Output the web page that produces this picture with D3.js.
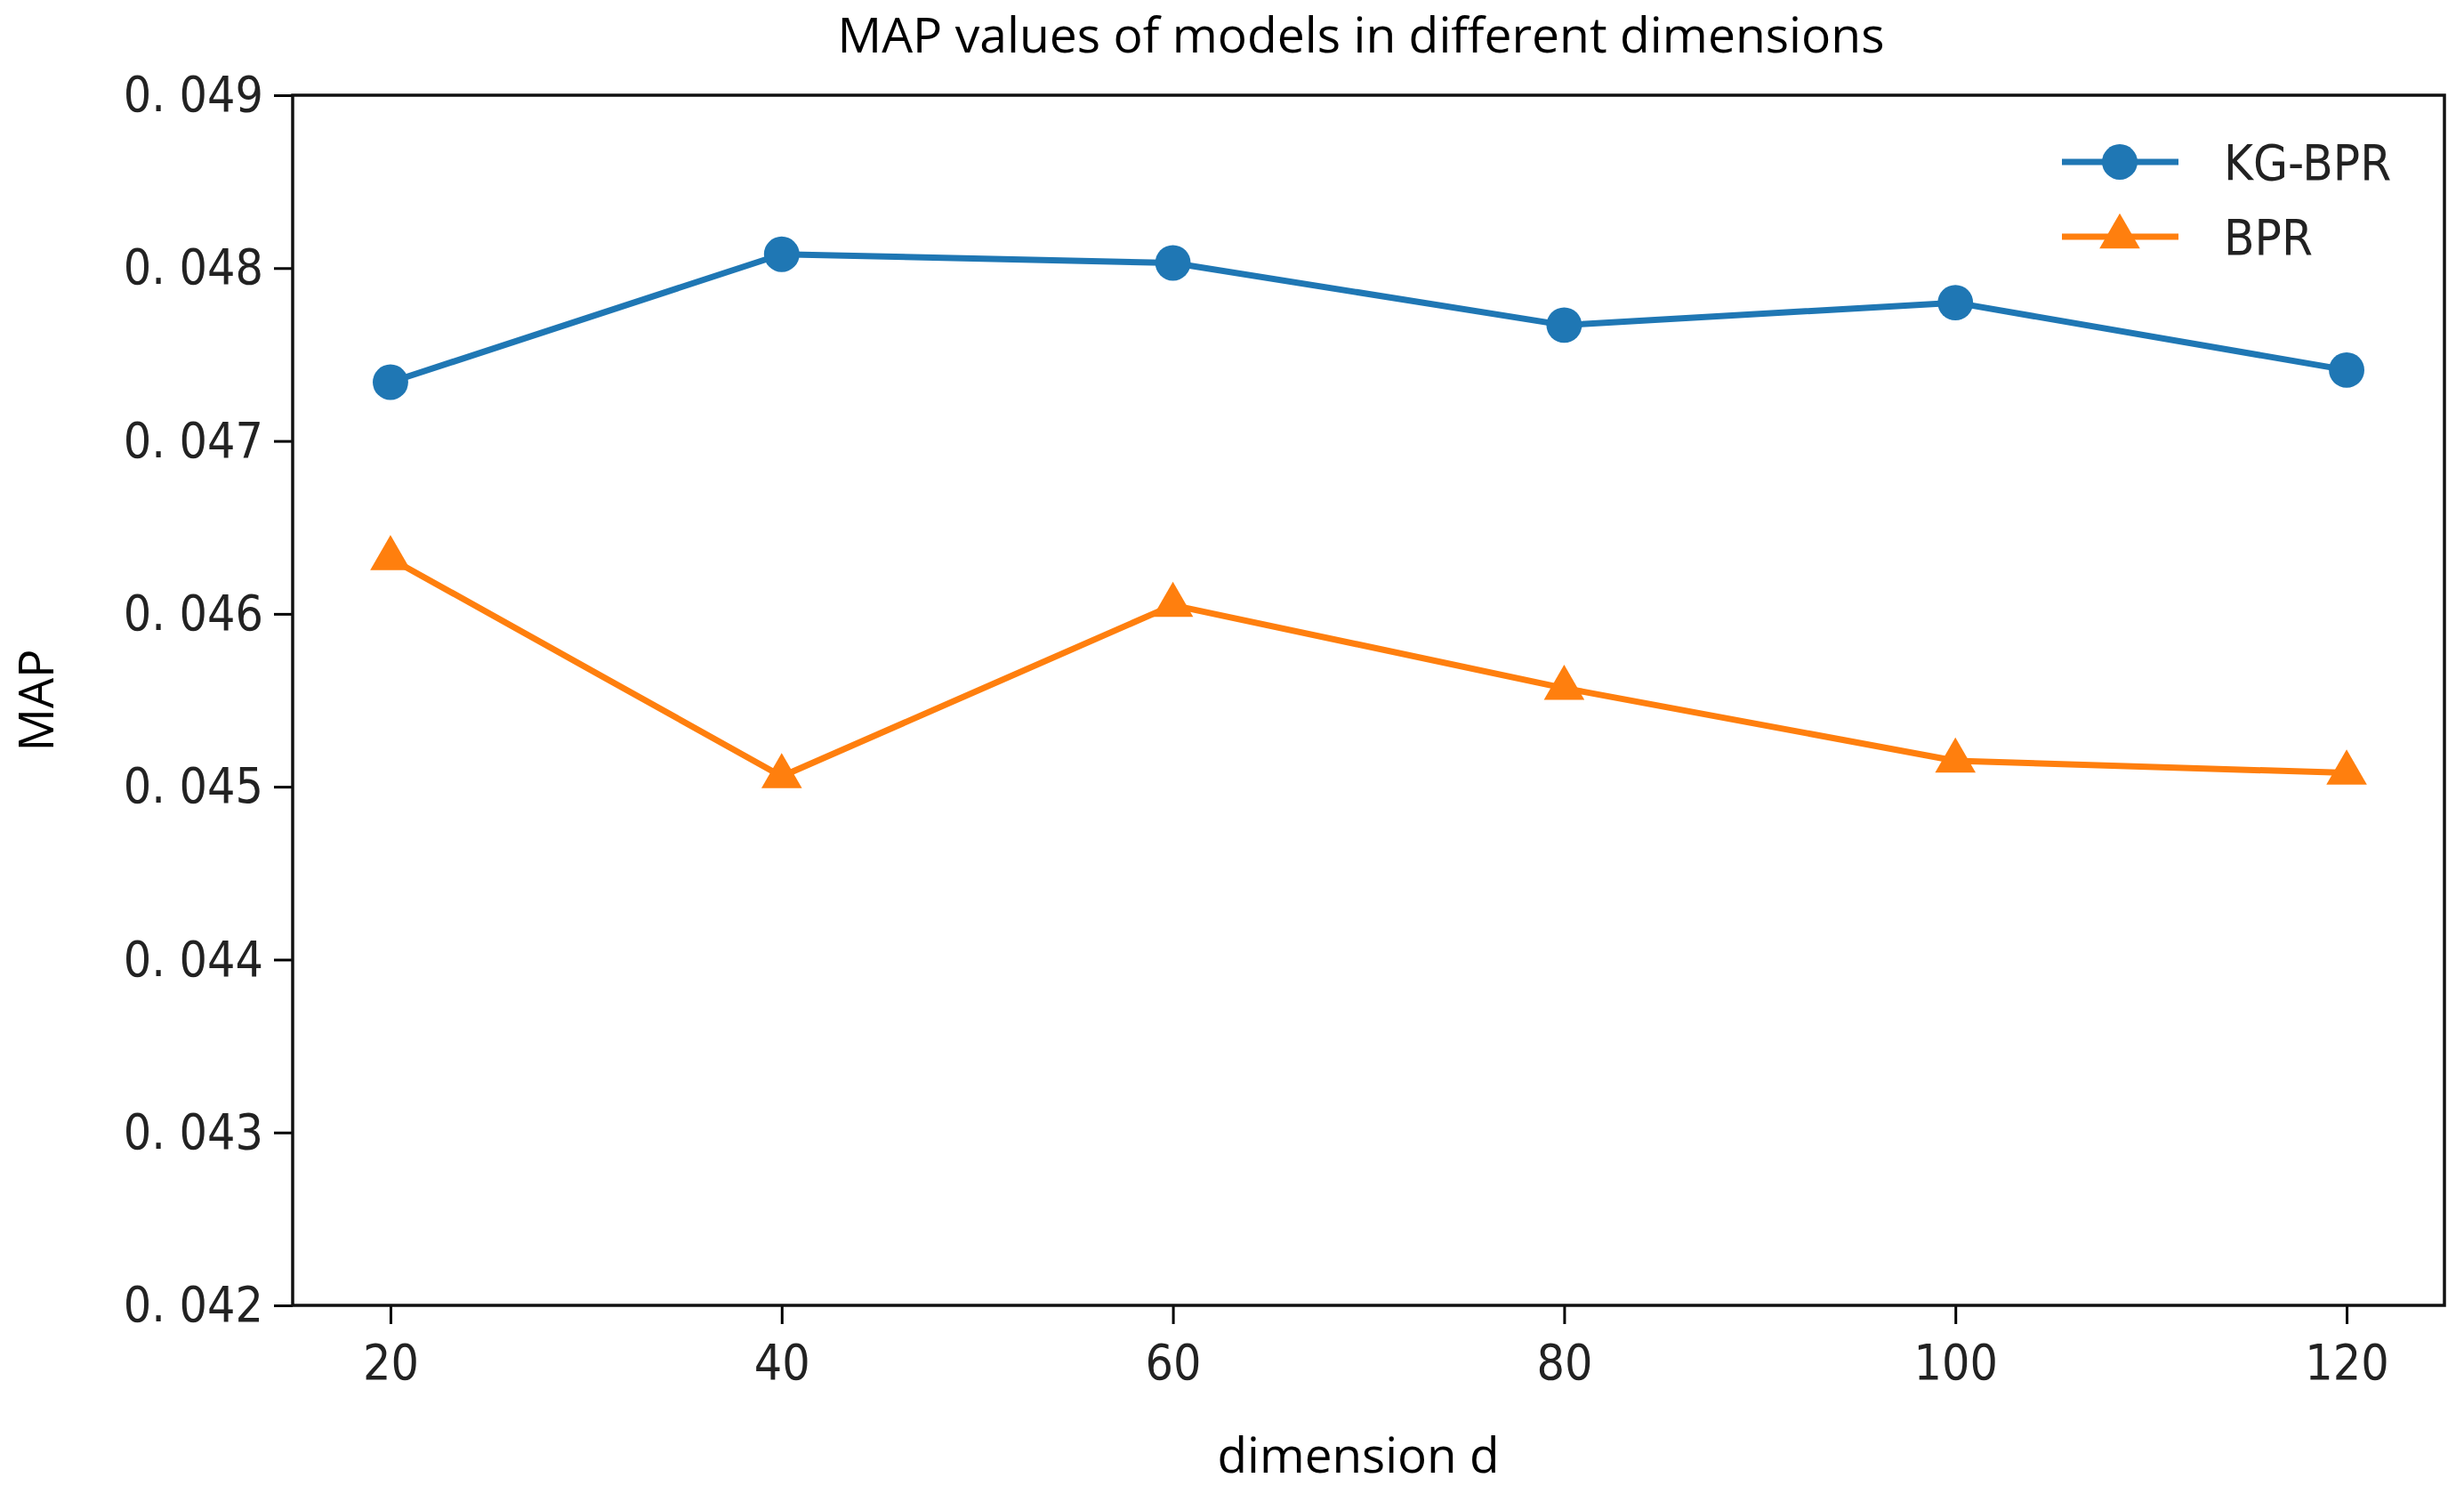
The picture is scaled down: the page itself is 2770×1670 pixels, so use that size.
<!DOCTYPE html>
<html>
<head>
<meta charset="utf-8">
<script src="https://cdn.jsdelivr.net/npm/d3@7"></script>
<style>
  body { margin: 0; background: #fff; }
  svg { display: block; }
</style>
</head>
<body>
<svg id="chart" width="2770" height="1670"></svg>
<script>
// Data
const dims = [20, 40, 60, 80, 100, 120];
const kgBpr = [0.04734, 0.04808, 0.04803, 0.04767, 0.04780, 0.04741];
const bpr = [0.04632, 0.04506, 0.04605, 0.04557, 0.04515, 0.04508];
const yTicks = [0.042, 0.043, 0.044, 0.045, 0.046, 0.047, 0.048, 0.049];
const seriesNames = ["KG-BPR", "BPR"];

const W = 2770, H = 1670;
const margin = { top: 107, right: 22, bottom: 203, left: 329 };
const tickFont = "'DejaVu Sans Condensed', 'DejaVu Sans', sans-serif";
const labelFont = "'Open Sans', 'Noto Sans', sans-serif";

const svg = d3.select("#chart");

const x = d3.scaleLinear()
    .domain([15, 125])
    .range([margin.left, W - margin.right]);
const y = d3.scaleLinear()
    .domain([0.042, 0.049])
    .range([H - margin.bottom, margin.top]);

// Axes
const xAxis = svg.append("g")
    .attr("transform", `translate(0,${H - margin.bottom})`)
    .call(d3.axisBottom(x).tickValues(dims).tickSize(21).tickPadding(10).tickSizeOuter(0));
const yAxis = svg.append("g")
    .attr("transform", `translate(${margin.left},0)`)
    .call(d3.axisLeft(y).tickValues(yTicks).tickSize(21).tickPadding(12).tickSizeOuter(0)
        .tickFormat(d => d3.format(".3f")(d).replace(".", ". ")));

[xAxis, yAxis].forEach(a => {
    a.select(".domain").remove();
    a.selectAll(".tick line").attr("stroke", "#000").attr("stroke-width", 3);
    a.selectAll(".tick text")
        .attr("fill", "#222")
        .style("font-family", tickFont)
        .style("font-size", "55px");
});
xAxis.selectAll(".tick text").attr("dy", "0.95em");

// Frame
svg.append("rect")
    .attr("x", margin.left)
    .attr("y", margin.top)
    .attr("width", W - margin.right - margin.left)
    .attr("height", H - margin.bottom - margin.top)
    .attr("fill", "none")
    .attr("stroke", "#111")
    .attr("stroke-width", 3.5);

// Lines and markers
const series = [
    { name: seriesNames[0], values: kgBpr, color: "#1f77b4", marker: d3.symbolCircle },
    { name: seriesNames[1], values: bpr, color: "#ff7f0e", marker: d3.symbolTriangle }
];

const line = d3.line()
    .x((d, i) => x(dims[i]))
    .y(d => y(d));

series.forEach(s => {
    svg.append("path")
        .datum(s.values)
        .attr("fill", "none")
        .attr("stroke", s.color)
        .attr("stroke-width", 7)
        .attr("stroke-linejoin", "round")
        .attr("d", line);

    svg.selectAll(null)
        .data(s.values)
        .enter()
        .append("path")
        .attr("transform", (d, i) => `translate(${x(dims[i])},${y(d)})`)
        .attr("d", d3.symbol().type(s.marker).size(s.marker === d3.symbolCircle ? 1250 : 900))
        .attr("fill", s.color);
});

// Legend
const legend = svg.append("g").attr("transform", "translate(2318,182)");
series.forEach((s, i) => {
    const row = legend.append("g").attr("transform", `translate(0,${i * 84})`);
    row.append("line")
        .attr("x1", 0).attr("x2", 131)
        .attr("stroke", s.color)
        .attr("stroke-width", 7);
    row.append("path")
        .attr("transform", "translate(65,0)")
        .attr("d", d3.symbol().type(s.marker).size(s.marker === d3.symbolCircle ? 1250 : 900))
        .attr("fill", s.color);
    row.append("text")
        .attr("x", 182)
        .attr("y", 20)
        .attr("fill", "#222")
        .style("font-family", tickFont)
        .style("font-size", "56px")
        .text(s.name);
});

// Title and axis labels
svg.append("text")
    .attr("x", 1530)
    .attr("y", 59)
    .attr("text-anchor", "middle")
    .attr("textLength", 1177)
    .attr("lengthAdjust", "spacingAndGlyphs")
    .style("font-family", labelFont)
    .style("font-size", "55px")
    .text("MAP values of models in different dimensions");

svg.append("text")
    .attr("x", 1527)
    .attr("y", 1655)
    .attr("text-anchor", "middle")
    .attr("textLength", 317)
    .attr("lengthAdjust", "spacingAndGlyphs")
    .style("font-family", labelFont)
    .style("font-size", "55px")
    .text("dimension d");

svg.append("text")
    .attr("transform", `translate(60,${(margin.top + H - margin.bottom) / 2}) rotate(-90)`)
    .attr("text-anchor", "middle")
    .style("font-family", labelFont)
    .style("font-size", "54px")
    .text("MAP");
</script>
</body>
</html>
